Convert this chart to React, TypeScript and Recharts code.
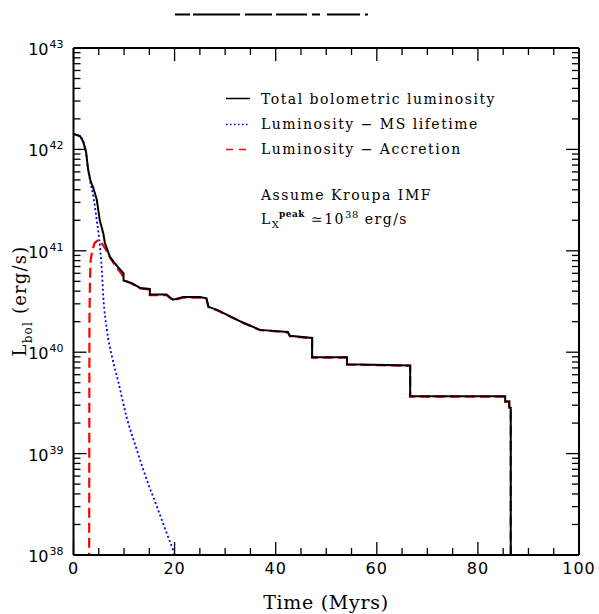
import { Line, LineChart, XAxis, YAxis } from 'recharts'

// time (Myr) / luminosity (erg/s)
const totalTime = [0, 1.3, 1.9, 2.5, 2.9, 3.4, 3.9, 4.6, 5.2, 5.9, 6.2, 7.2, 8.9, 9.9, 9.9, 11.5, 13.2, 15.1, 15.1, 18.4, 19.0, 19.7, 21.7, 25.0, 26.3, 26.7, 28.5, 30.3, 33.6, 36.9, 42.4, 42.8, 47.2, 47.2, 54.1, 54.1, 66.6, 66.6, 85.4, 85.4, 86.2, 86.2, 86.5, 86.5]
const totalLum = [1.42e42, 1.35e42, 1.2e42, 9.3e41, 6.3e41, 4.8e41, 4.2e41, 3.2e41, 2.0e41, 1.48e41, 1.2e41, 8.7e40, 6.8e40, 6.0e40, 5.1e40, 4.8e40, 4.3e40, 4.2e40, 3.7e40, 3.7e40, 3.5e40, 3.3e40, 3.5e40, 3.5e40, 3.4e40, 2.8e40, 2.6e40, 2.35e40, 1.95e40, 1.66e40, 1.58e40, 1.45e40, 1.38e40, 8.9e39, 8.9e39, 7.6e39, 7.4e39, 3.67e39, 3.67e39, 3.27e39, 3.27e39, 2.84e39, 2.84e39, 1e37]

const msTime = [0, 1.3, 1.9, 2.5, 2.9, 3.4, 3.9, 4.6, 5.1, 5.6, 5.9, 6.6, 7.6, 8.9, 10.5, 12.5, 14.5, 16.5, 18.4, 19.9, 21]
const msLum = [1.42e42, 1.35e42, 1.2e42, 9.3e41, 6.3e41, 4.6e41, 3.5e41, 2.0e41, 1.29e41, 6.5e40, 3.5e40, 1.66e40, 9.1e39, 5.0e39, 2.3e39, 1.1e39, 5.5e38, 3.0e38, 1.66e38, 1.05e38, 7e37]

const accTime = [3.05, 3.15, 3.25, 3.4, 3.7, 4.2, 5.0, 5.5, 6.2, 7.0, 7.9, 9.2, 10.5, 11.5, 13.2, 15.1, 15.1, 18.4, 19.0, 19.7, 21.7, 25.0, 26.3, 26.7, 28.5, 30.3, 33.6, 36.9, 42.4, 42.8, 47.2, 47.2, 54.1, 54.1, 66.6, 66.6, 85.4, 85.4, 86.2, 86.2, 86.5, 86.5]
const accLum = [1e36, 2.0e40, 5.0e40, 8.1e40, 1.0e41, 1.2e41, 1.29e41, 1.2e41, 1.07e41, 9.0e40, 7.6e40, 6.2e40, 5.0e40, 4.75e40, 4.25e40, 4.15e40, 3.65e40, 3.65e40, 3.45e40, 3.25e40, 3.45e40, 3.45e40, 3.35e40, 2.78e40, 2.58e40, 2.33e40, 1.94e40, 1.65e40, 1.57e40, 1.44e40, 1.37e40, 8.85e39, 8.85e39, 7.55e39, 7.35e39, 3.65e39, 3.65e39, 3.25e39, 3.25e39, 2.83e39, 2.83e39, 1e37]

const xMajor = [0, 20, 40, 60, 80, 100]
const xMinor = [5, 10, 15, 25, 30, 35, 45, 50, 55, 65, 70, 75, 85, 90, 95]
const yExponents = [38, 39, 40, 41, 42, 43]
const yMinorMult = [2, 3, 4, 5, 6, 7, 8, 9]

const toRows = (t: number[], l: number[]) => t.map((v, i) => ({ t: v, L: l[i] }))
const totalData = toRows(totalTime, totalLum)
const msData = toRows(msTime, msLum)
const accData = toRows(accTime, accLum)

const xTicks = [...xMajor, ...xMinor].sort((a, b) => a - b)
const yTicks = [
  ...yExponents.map((e) => 10 ** e),
  ...yExponents.slice(0, -1).flatMap((e) => yMinorMult.map((m) => m * 10 ** e)),
].sort((a, b) => a - b)

const isXMajor = (v: number) => xMajor.includes(v)
const isYMajor = (v: number) => {
  const lg = Math.log10(v)
  return Math.abs(lg - Math.round(lg)) < 1e-6
}

const TICK_FONT = '"DejaVu Sans", sans-serif'
const TEXT_FONT = '"DejaVu Serif", serif'

function BottomTick({ x, y, payload }: any) {
  const major = isXMajor(payload.value)
  return (
    <g>
      <line x1={x} x2={x} y1={y} y2={y - (major ? 13 : 7)} stroke="#000" strokeWidth={1.3} />
      {major && (
        <text x={x} y={y + 19} textAnchor="middle" fontFamily={TICK_FONT} fontSize={16} letterSpacing={1} fill="#000">
          {payload.value}
        </text>
      )}
    </g>
  )
}

function TopTick({ x, y, payload }: any) {
  const major = isXMajor(payload.value)
  return <line x1={x} x2={x} y1={y} y2={y + (major ? 13 : 7)} stroke="#000" strokeWidth={1.3} />
}

function LeftTick({ x, y, payload }: any) {
  const major = isYMajor(payload.value)
  const exp = Math.round(Math.log10(payload.value))
  return (
    <g>
      <line x1={x} x2={x + (major ? 13 : 7)} y1={y} y2={y} stroke="#000" strokeWidth={1.3} />
      {major && (
        <text x={x - 10} y={y + 7} textAnchor="end" fontFamily={TICK_FONT} fontSize={16} fill="#000">
          10
          <tspan dx={1} dy={-7} fontSize={11}>
            {exp}
          </tspan>
        </text>
      )}
    </g>
  )
}

function RightTick({ x, y, payload }: any) {
  const major = isYMajor(payload.value)
  return <line x1={x} x2={x - (major ? 13 : 7)} y1={y} y2={y} stroke="#000" strokeWidth={1.3} />
}

export default function App() {
  return (
    <div style={{ position: 'relative', width: 599, height: 614 }}>
      <style>{'body{margin:0}'}</style>
      <LineChart width={599} height={614} margin={{ top: 38, right: 10, left: 13.5, bottom: 9 }}>
        <XAxis
          xAxisId="bottom"
          type="number"
          dataKey="t"
          domain={[0, 100]}
          ticks={xTicks}
          interval={0}
          allowDataOverflow
          height={50}
          tickSize={0}
          tickMargin={0}
          tickLine={false}
          tick={<BottomTick />}
          axisLine={{ stroke: '#000', strokeWidth: 2 }}
        />
        <XAxis
          xAxisId="top"
          orientation="top"
          type="number"
          dataKey="t"
          domain={[0, 100]}
          ticks={xTicks}
          interval={0}
          allowDataOverflow
          height={10}
          tickSize={0}
          tickMargin={0}
          tickLine={false}
          tick={<TopTick />}
          axisLine={{ stroke: '#000', strokeWidth: 2 }}
        />
        <YAxis
          yAxisId="left"
          scale="log"
          domain={[1e38, 1e43]}
          ticks={yTicks}
          interval={0}
          allowDataOverflow
          width={60}
          tickSize={0}
          tickMargin={0}
          tickLine={false}
          tick={<LeftTick />}
          axisLine={{ stroke: '#000', strokeWidth: 2 }}
        />
        <YAxis
          yAxisId="right"
          orientation="right"
          scale="log"
          domain={[1e38, 1e43]}
          ticks={yTicks}
          interval={0}
          allowDataOverflow
          width={10}
          tickSize={0}
          tickMargin={0}
          tickLine={false}
          tick={<RightTick />}
          axisLine={{ stroke: '#000', strokeWidth: 2 }}
        />
        <Line
          xAxisId="bottom"
          yAxisId="left"
          data={accData}
          dataKey="L"
          type="linear"
          stroke="#ff0000"
          strokeWidth={2.2}
          strokeDasharray="10 5"
          dot={false}
          isAnimationActive={false}
        />
        <Line
          xAxisId="bottom"
          yAxisId="left"
          data={msData}
          dataKey="L"
          type="monotone"
          stroke="#0000ff"
          strokeWidth={1.8}
          strokeDasharray="2 2.5"
          dot={false}
          isAnimationActive={false}
        />
        <Line
          xAxisId="bottom"
          yAxisId="left"
          data={totalData}
          dataKey="L"
          type="linear"
          stroke="#000"
          strokeWidth={2}
          dot={false}
          isAnimationActive={false}
        />
      </LineChart>
      <svg
        width={599}
        height={614}
        style={{ position: 'absolute', left: 0, top: 0, pointerEvents: 'none' }}
        fontFamily={TEXT_FONT}
        fill="#000"
      >
        <line x1={175} x2={368} y1={14.5} y2={14.5} stroke="#000" strokeWidth={2} strokeDasharray="15 3 47 5 27 4 31 5 8 7 33 5 3" />
        <line x1={226} x2={250} y1={98.5} y2={98.5} stroke="#000" strokeWidth={1.5} />
        <line x1={226} x2={250} y1={124.5} y2={124.5} stroke="#0000ff" strokeWidth={1.5} strokeDasharray="1.5 2.5" />
        <line x1={226} x2={250} y1={149.5} y2={149.5} stroke="#ff0000" strokeWidth={1.5} strokeDasharray="7 6" />
        <g fontSize={14} letterSpacing={1.5}>
          <text x={261} y={103.5}>Total bolometric luminosity</text>
          <text x={261} y={129}>Luminosity − MS lifetime</text>
          <text x={261} y={154}>Luminosity − Accretion</text>
          <text x={261} y={200}>Assume Kroupa IMF</text>
          <text x={261} y={224}>
            L<tspan dy={4} fontSize={10} letterSpacing={0}>X</tspan>
            <tspan dy={-11} fontSize={9} fontWeight="bold" letterSpacing={0.5}>peak</tspan>
            <tspan dy={7}> ≃10</tspan>
            <tspan dy={-6} fontSize={10} letterSpacing={0.5}>38</tspan>
            <tspan dy={6}> erg/s</tspan>
          </text>
        </g>
        <text x={326} y={609} fontSize={19} letterSpacing={0.7} textAnchor="middle">Time (Myrs)</text>
        <text transform="translate(26,301) rotate(-90)" fontSize={18} letterSpacing={1.2} textAnchor="middle">
          L<tspan dy={6} fontSize={12}>bol</tspan>
          <tspan dy={-6}> (erg/s)</tspan>
        </text>
      </svg>
    </div>
  )
}
